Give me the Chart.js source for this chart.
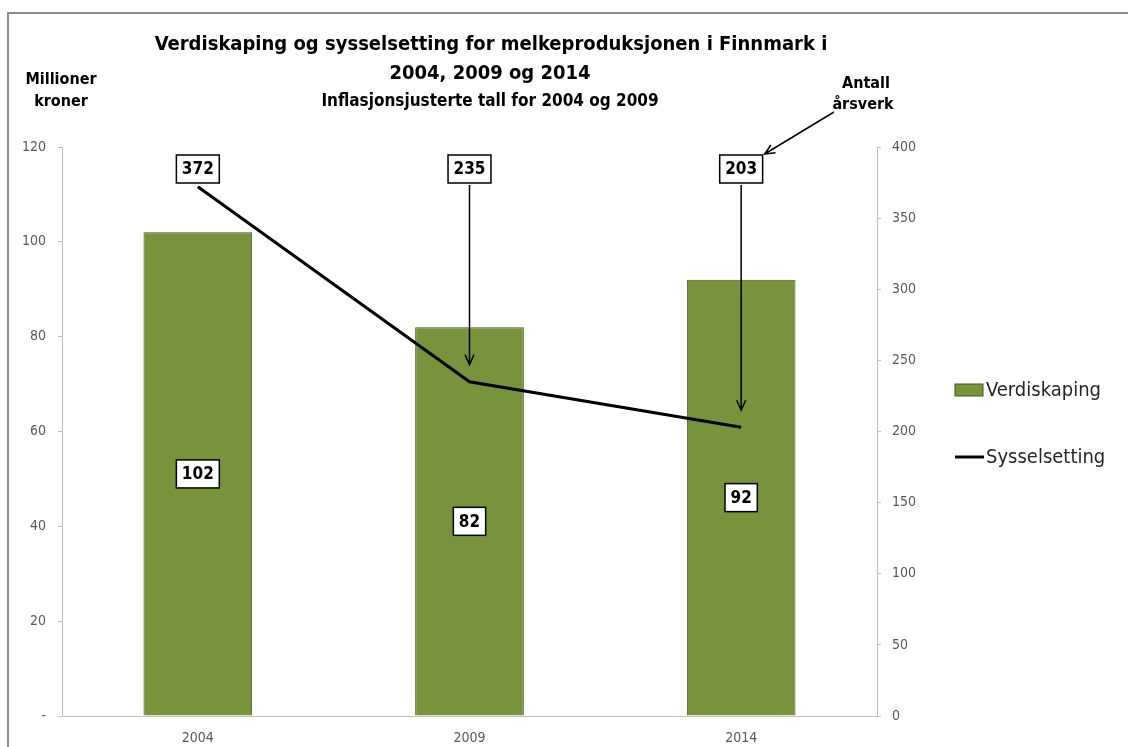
<!DOCTYPE html>
<html lang="no">
<head>
  <meta charset="UTF-8">
  <title>Verdiskaping og sysselsetting</title>
  <style>
    body { margin: 0; background: #fff; overflow: hidden; }
    .chart-container { position: relative; width: 1128px; height: 747px; }
  </style>
</head>
<body>
  <div class="chart-container">
    <canvas id="melkChart"></canvas>
  </div>

  <script src="https://cdn.jsdelivr.net/npm/chart.js"></script>
  <script>
    // data
    const years = ['2004', '2009', '2014'];
    const verdiskaping = [102, 82, 92];       // millioner kroner
    const sysselsetting = [372, 235, 203];    // antall årsverk
    const titleLines = ['Verdiskaping og sysselsetting for melkeproduksjonen i Finnmark i', '2004, 2009 og 2014'];
    const subTitle = 'Inflasjonsjusterte tall for 2004 og 2009';
    const leftAxisTitle = ['Millioner', 'kroner'];
    const rightAxisTitle = ['Antall', 'årsverk'];

    const FONT = '"Liberation Sans Narrow", "DejaVu Sans Condensed", Arial, sans-serif';
    const GREEN = '#77933C';
    const GREEN_EDGE = '#45561F';
    const AXIS_GRAY = '#BFBFBF';
    const TICK_TEXT = '#595959';

    function arrow(ctx, x1, y1, x2, y2) {
      const ang = Math.atan2(y2 - y1, x2 - x1);
      const len = 11, spread = 0.42;
      ctx.beginPath();
      ctx.moveTo(x1, y1);
      ctx.lineTo(x2, y2);
      ctx.moveTo(x2 - len * Math.cos(ang - spread), y2 - len * Math.sin(ang - spread));
      ctx.lineTo(x2, y2);
      ctx.lineTo(x2 - len * Math.cos(ang + spread), y2 - len * Math.sin(ang + spread));
      ctx.stroke();
    }

    function labelBox(ctx, text, cx, cy) {
      ctx.font = 'bold 17px ' + FONT;
      const w = ctx.measureText(text).width + 11;
      const h = 28;
      ctx.fillStyle = '#fff';
      ctx.fillRect(cx - w / 2, cy - h / 2, w, h);
      ctx.lineWidth = 1.5;
      ctx.strokeStyle = '#000';
      ctx.strokeRect(cx - w / 2, cy - h / 2, w, h);
      ctx.fillStyle = '#000';
      ctx.textAlign = 'center';
      ctx.textBaseline = 'middle';
      ctx.fillText(text, cx, cy + 1);
      return { left: cx - w / 2, right: cx + w / 2, top: cy - h / 2, bottom: cy + h / 2 };
    }

    // tekst, etiketter, piler og forklaring
    const decorPlugin = {
      id: 'decor',
      beforeDraw(chart) {
        const { ctx, width, height } = chart;
        ctx.save();
        ctx.fillStyle = '#fff';
        ctx.fillRect(0, 0, width, height);
        // ramme rundt diagrammet (beskåret)
        ctx.strokeStyle = '#8C8C8C';
        ctx.lineWidth = 2;
        ctx.beginPath();
        ctx.moveTo(8, height);
        ctx.lineTo(8, 13);
        ctx.lineTo(width, 13);
        ctx.stroke();
        ctx.restore();
      },
      afterDatasetsDraw(chart) {
        const { ctx, chartArea } = chart;
        const barMeta = chart.getDatasetMeta(0);
        const lineMeta = chart.getDatasetMeta(1);
        ctx.save();

        // verdiskaping: etikett midt i søylen
        barMeta.data.forEach((bar, i) => {
          labelBox(ctx, String(verdiskaping[i]), bar.x, (bar.y + bar.base) / 2);
        });

        // sysselsetting: etikett øverst, pil ned til linjen
        let lastBox;
        lineMeta.data.forEach((pt, i) => {
          const box = labelBox(ctx, String(sysselsetting[i]), pt.x, chartArea.top + 22);
          if (pt.y - box.bottom > 20) {
            ctx.strokeStyle = '#000';
            ctx.lineWidth = 1.5;
            arrow(ctx, pt.x, box.bottom + 2, pt.x, pt.y - 17);
          }
          lastBox = box;
        });

        // pil fra "årsverk" til siste etikett
        ctx.strokeStyle = '#000';
        ctx.lineWidth = 1.5;
        arrow(ctx, chartArea.right - 43, chartArea.top - 35, lastBox.right + 2, lastBox.top - 1);
        ctx.restore();
      },
      afterDraw(chart) {
        const { ctx } = chart;
        ctx.save();
        ctx.fillStyle = '#000';
        ctx.textAlign = 'center';
        ctx.textBaseline = 'middle';

        ctx.font = 'bold 20px ' + FONT;
        ctx.fillText(titleLines[0], 491, 45);
        ctx.fillText(titleLines[1], 490, 74);
        ctx.font = 'bold 17px ' + FONT;
        ctx.fillText(subTitle, 490, 102);

        ctx.font = 'bold 16px ' + FONT;
        ctx.fillText(leftAxisTitle[0], 61, 80);
        ctx.fillText(leftAxisTitle[1], 61, 102);
        ctx.fillText(rightAxisTitle[0], 866, 84);
        ctx.fillText(rightAxisTitle[1], 863, 105);

        // forklaring
        const lx = 955, ly = [390, 457];
        ctx.fillStyle = GREEN;
        ctx.fillRect(lx, ly[0] - 6, 28, 12);
        ctx.strokeStyle = GREEN_EDGE;
        ctx.lineWidth = 1;
        ctx.strokeRect(lx, ly[0] - 6, 28, 12);
        ctx.strokeStyle = '#000';
        ctx.lineWidth = 3;
        ctx.beginPath();
        ctx.moveTo(lx, ly[1]);
        ctx.lineTo(lx + 29, ly[1]);
        ctx.stroke();
        ctx.font = '20px ' + FONT;
        ctx.fillStyle = '#262626';
        ctx.textAlign = 'left';
        chart.data.datasets.forEach((ds, i) => ctx.fillText(ds.label, lx + 31, ly[i] + 1));
        ctx.restore();
      }
    };

    const tickFont = { family: FONT, size: 14 };

    new Chart(document.getElementById('melkChart'), {
      data: {
        labels: years,
        datasets: [
          {
            type: 'bar',
            label: 'Verdiskaping',
            data: verdiskaping,
            yAxisID: 'y',
            backgroundColor: GREEN,
            borderColor: GREEN_EDGE,
            borderWidth: 1,
            barPercentage: 0.4,
            categoryPercentage: 1,
            order: 1
          },
          {
            type: 'line',
            label: 'Sysselsetting',
            data: sysselsetting,
            yAxisID: 'y1',
            borderColor: '#000',
            borderWidth: 3,
            pointRadius: 0,
            tension: 0,
            order: 0
          }
        ]
      },
      options: {
        responsive: true,
        maintainAspectRatio: false,
        animation: false,
        layout: { padding: { top: 147, left: 0, right: 0, bottom: 0 } },
        plugins: {
          legend: { display: false },
          tooltip: { enabled: false },
          title: { display: false }
        },
        scales: {
          x: {
            grid: { display: true, drawOnChartArea: false, drawTicks: false },
            border: { color: AXIS_GRAY },
            ticks: { color: TICK_TEXT, font: tickFont, padding: 14 },
            afterFit(scale) { scale.height = 31; }
          },
          y: {
            position: 'left',
            min: 0,
            max: 120,
            ticks: {
              stepSize: 20,
              color: TICK_TEXT,
              font: tickFont,
              padding: 12,
              callback: (v) => (v === 0 ? '-' : v)
            },
            grid: { drawOnChartArea: false, tickLength: 4, color: AXIS_GRAY },
            border: { color: AXIS_GRAY },
            afterFit(scale) { scale.width = 62; }
          },
          y1: {
            position: 'right',
            min: 0,
            max: 400,
            ticks: { stepSize: 50, color: TICK_TEXT, font: tickFont, padding: 11 },
            grid: { drawOnChartArea: false, tickLength: 4, color: AXIS_GRAY },
            border: { color: AXIS_GRAY },
            afterFit(scale) { scale.width = 251; }
          }
        }
      },
      plugins: [decorPlugin]
    });
  </script>
</body>
</html>
